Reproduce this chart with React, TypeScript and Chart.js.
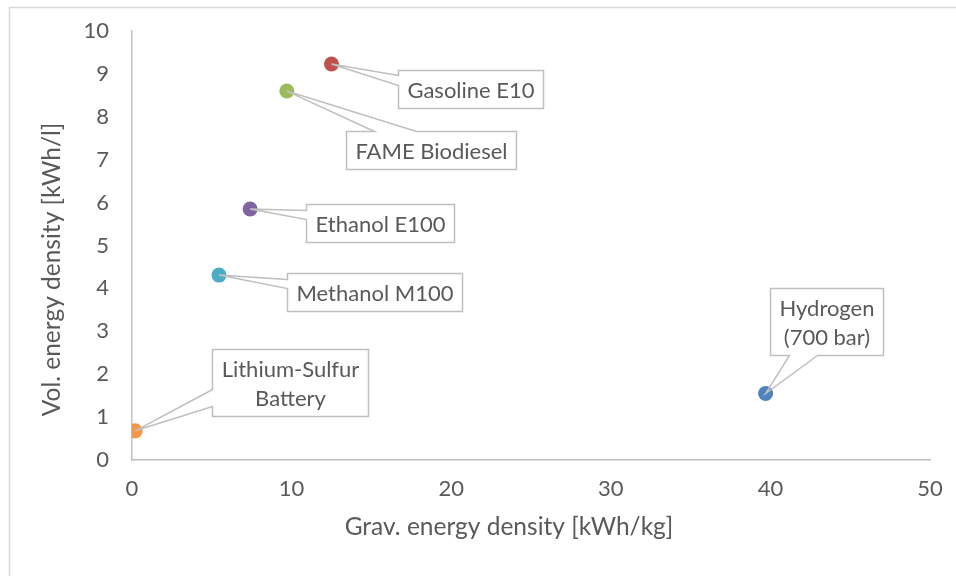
import { useEffect, useRef } from "react";
import { Chart, registerables } from "chart.js";

Chart.register(...registerables);

// Energy carriers plotted by gravimetric vs volumetric energy density
const fuelLabels: string[][] = [
  ["Gasoline E10"],
  ["FAME Biodiesel"],
  ["Ethanol E100"],
  ["Methanol M100"],
  ["Lithium-Sulfur", "Battery"],
  ["Hydrogen", "(700 bar)"],
];
const gravDensity = [12.5, 9.7, 7.4, 5.45, 0.2, 39.7]; // kWh/kg
const volDensity = [9.23, 8.6, 5.85, 4.31, 0.68, 1.55]; // kWh/l
const markerColors = ["#C0504D", "#9BBB59", "#8064A2", "#4BACC6", "#F79646", "#4F81BD"];

const xTitle = "Grav. energy density [kWh/kg]";
const yTitle = "Vol. energy density [kWh/l]";

// Callout placement: box centre offset from the marker, and where the pointer meets the box
type Callout = { dx: number; dy: number; side: "left" | "top" | "bottom"; a: number; b: number };
const callouts: Callout[] = [
  { dx: 139.5, dy: 25, side: "left", a: 5, b: 15 },
  { dx: 144, dy: 59, side: "top", a: 28, b: 70 },
  { dx: 130, dy: 13.5, side: "left", a: 6, b: 15 },
  { dx: 156, dy: 17, side: "left", a: 6, b: 15 },
  { dx: 155, dy: -48, side: "left", a: 40, b: 57 },
  { dx: 60.5, dy: -72, side: "bottom", a: 19, b: 47 },
];

const FONT = "Lato, 'Noto Sans', sans-serif";
const TEXT = "#595959";
const LINE = "#bfbfbf";

const framePlugin = {
  id: "frame",
  beforeDraw(chart: any) {
    const ctx = chart.ctx;
    ctx.save();
    ctx.fillStyle = "#ffffff";
    ctx.fillRect(0, 0, chart.width, chart.height);
    ctx.strokeStyle = "#d9d9d9";
    ctx.lineWidth = 1.5;
    ctx.strokeRect(9.5, 7.5, chart.width + 50, chart.height + 50);
    ctx.restore();
  },
};

// Axis titles, placed a little off the plot centre
const axisTitlePlugin = {
  id: "axisTitles",
  afterDraw(chart: any) {
    const ctx = chart.ctx;
    const { left, right, top, bottom } = chart.chartArea;
    ctx.save();
    ctx.font = `24.5px ${FONT}`;
    ctx.fillStyle = TEXT;
    ctx.textAlign = "center";
    ctx.textBaseline = "middle";
    ctx.fillText(xTitle, (left + right) / 2 - 22, 527);
    ctx.translate(52.5, (top + bottom) / 2 + 24);
    ctx.rotate(-Math.PI / 2);
    ctx.fillText(yTitle, 0, 0);
    ctx.restore();
  },
};

const calloutPlugin = {
  id: "callouts",
  afterDatasetsDraw(chart: any) {
    const ctx = chart.ctx;
    const meta = chart.getDatasetMeta(0);
    ctx.save();
    ctx.font = `22px ${FONT}`;
    meta.data.forEach((pt: any, i: number) => {
      const { x, y } = pt.getProps(["x", "y"], true);
      const lines = fuelLabels[i];
      const co = callouts[i];
      const lh = 29;
      const w = Math.max(...lines.map((l) => ctx.measureText(l).width)) + 18;
      const h = lines.length * lh + 9;
      const cx = x + co.dx;
      const cy = y + co.dy;
      const l = Math.round(cx - w / 2) + 0.5;
      const t = Math.round(cy - h / 2) + 0.5;
      const r = l + Math.round(w);
      const b = t + Math.round(h);

      ctx.fillStyle = "#ffffff";
      ctx.fillRect(l, t, r - l, b - t);

      ctx.beginPath();
      if (co.side === "left") {
        ctx.moveTo(l, t + co.a);
        ctx.lineTo(x, y);
        ctx.lineTo(l, t + co.b);
        ctx.lineTo(l, b);
        ctx.lineTo(r, b);
        ctx.lineTo(r, t);
        ctx.lineTo(l, t);
      } else if (co.side === "top") {
        ctx.moveTo(l + co.a, t);
        ctx.lineTo(x, y);
        ctx.lineTo(l + co.b, t);
        ctx.lineTo(r, t);
        ctx.lineTo(r, b);
        ctx.lineTo(l, b);
        ctx.lineTo(l, t);
      } else {
        ctx.moveTo(l + co.b, b);
        ctx.lineTo(x, y);
        ctx.lineTo(l + co.a, b);
        ctx.lineTo(l, b);
        ctx.lineTo(l, t);
        ctx.lineTo(r, t);
        ctx.lineTo(r, b);
      }
      ctx.closePath();
      ctx.strokeStyle = LINE;
      ctx.lineWidth = 1.5;
      ctx.lineJoin = "miter";
      ctx.stroke();

      ctx.fillStyle = TEXT;
      ctx.textAlign = "center";
      ctx.textBaseline = "middle";
      lines.forEach((line, k) => {
        ctx.fillText(line, (l + r) / 2, (t + b) / 2 + (k - (lines.length - 1) / 2) * lh + 1);
      });
    });
    ctx.restore();
  },
};

export default function App() {
  const canvasRef = useRef<HTMLCanvasElement | null>(null);

  useEffect(() => {
    document.body.style.margin = "0";
    const canvas = canvasRef.current;
    if (!canvas) return;

    const points = gravDensity.map((g, i) => ({ x: g, y: volDensity[i] }));

    const chart = new Chart(canvas, {
      type: "scatter",
      data: {
        datasets: [
          {
            data: points,
            pointRadius: 7.5,
            pointHoverRadius: 7.5,
            pointBackgroundColor: markerColors,
            pointBorderColor: markerColors,
            pointBorderWidth: 0,
          },
        ],
      },
      options: {
        responsive: false,
        animation: false,
        devicePixelRatio: 1,
        layout: { padding: { top: 31, right: 26, left: 0, bottom: 0 } },
        plugins: {
          legend: { display: false },
          tooltip: { enabled: false },
        },
        scales: {
          x: {
            type: "linear",
            min: 0,
            max: 50,
            ticks: {
              stepSize: 10,
              color: TEXT,
              font: { family: FONT, size: 22 },
              padding: 16,
            },
            grid: { display: false, drawTicks: false },
            border: { display: true, color: LINE, width: 1.5 },
            afterFit: (s: any) => {
              s.height = 116;
              s.paddingLeft = 0;
              s.paddingRight = 0;
            },
          },
          y: {
            type: "linear",
            min: 0,
            max: 10,
            ticks: {
              stepSize: 1,
              color: TEXT,
              font: { family: FONT, size: 22 },
              padding: 23,
            },
            grid: { display: false, drawTicks: false },
            border: { display: true, color: LINE, width: 1.5 },
            afterFit: (s: any) => {
              s.width = 132;
              s.paddingTop = 0;
              s.paddingBottom = 0;
            },
          },
        },
      },
      plugins: [framePlugin, calloutPlugin, axisTitlePlugin],
    });

    return () => chart.destroy();
  }, []);

  return (
    <div style={{ width: 956, height: 576 }}>
      <canvas ref={canvasRef} width={956} height={576} style={{ display: "block" }} />
    </div>
  );
}
